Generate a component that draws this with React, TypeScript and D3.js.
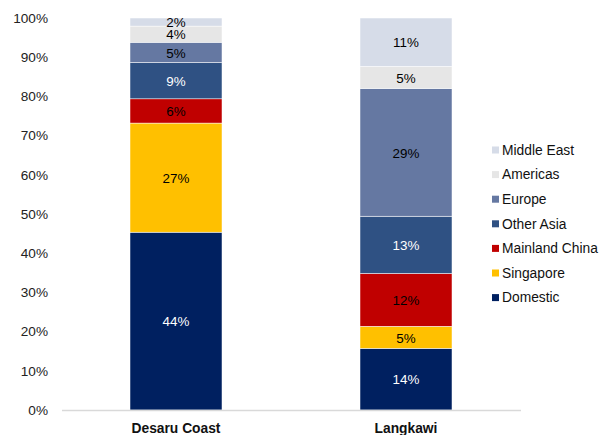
import React from "react";
import * as d3 from "d3";

const categories = ["Desaru Coast", "Langkawi"];
const seriesNames = ["Domestic", "Singapore", "Mainland China", "Other Asia", "Europe", "Americas", "Middle East"];
const domestic = [44, 14];
const singapore = [27, 5];
const mainlandChina = [6, 12];
const otherAsia = [9, 13];
const europe = [5, 29];
const americas = [4, 5];
const middleEast = [2, 11];
const yTicks = [0, 0.1, 0.2, 0.3, 0.4, 0.5, 0.6, 0.7, 0.8, 0.9, 1.0];

const colors = ["#002060", "#FFC000", "#C00000", "#2F5183", "#6578A2", "#E6E6E6", "#D6DCE8"];
const labelColors = ["#ffffff", "#000000", "#000000", "#ffffff", "#000000", "#000000", "#000000"];

export default function App() {
  const W = 611, H = 435;
  const allSeries = [domestic, singapore, mainlandChina, otherAsia, europe, americas, middleEast];
  const rows = categories.map((c, i) => {
    const r: any = { cat: c };
    seriesNames.forEach((s, j) => (r[s] = allSeries[j][i]));
    return r;
  });
  const stack = d3.stack<any>().keys(seriesNames).offset(d3.stackOffsetExpand);
  const stacked = stack(rows);

  const y = d3.scaleLinear().domain([0, 1]).range([410, 18]);
  const x = d3.scaleBand().domain(categories).range([130, 452]).paddingInner(0.6).paddingOuter(0);
  const font = "'Liberation Sans', Arial, sans-serif";

  return (
    <svg width={W} height={H} style={{ position: "absolute", left: 0, top: 0, background: "#fff" }} fontFamily={font}>
      {yTicks.map((t) => (
        <text key={t} x={48} y={y(t)} dy="0.35em" textAnchor="end" fontSize={13.6} fill="#222">
          {d3.format(".0%")(t)}
        </text>
      ))}
      {stacked.map((layer, j) => (
        <g key={layer.key}>
          {layer.map((d, i) => (
            <rect
              key={i}
              x={x(categories[i])}
              width={x.bandwidth()}
              y={y(d[1])}
              height={y(d[0]) - y(d[1])}
              fill={colors[j]}
              stroke="#ffffff"
              strokeWidth={0.5}
            />
          ))}
        </g>
      ))}
      {stacked.map((layer, j) => (
        <g key={"l" + layer.key}>
          {layer.map((d, i) => (
            <text
              key={"t" + i}
              x={(x(categories[i]) as number) + x.bandwidth() / 2}
              y={(y(d[0]) + y(d[1])) / 2 + 0.5}
              dy="0.35em"
              textAnchor="middle"
              fontSize={13.4}
              fill={labelColors[j]}
            >
              {allSeries[j][i]}%
            </text>
          ))}
        </g>
      ))}
      <line x1={62} x2={521} y1={410.5} y2={410.5} stroke="#d9d9d9" strokeWidth={1.5} />
      {categories.map((c) => (
        <text key={c} x={(x(c) as number) + x.bandwidth() / 2} y={428} dy="0.35em" textAnchor="middle" fontSize={13.8} fontWeight="bold" fill="#111">
          {c}
        </text>
      ))}
      {seriesNames
        .slice()
        .reverse()
        .map((s, k) => {
          const j = seriesNames.length - 1 - k;
          const cy = 150 + k * 24.6;
          return (
            <g key={s}>
              <rect x={492} y={cy - 3.5} width={7} height={7} fill={colors[j]} />
              <text x={502} y={cy} dy="0.35em" fontSize={13.8} fill="#111">
                {s}
              </text>
            </g>
          );
        })}
    </svg>
  );
}
